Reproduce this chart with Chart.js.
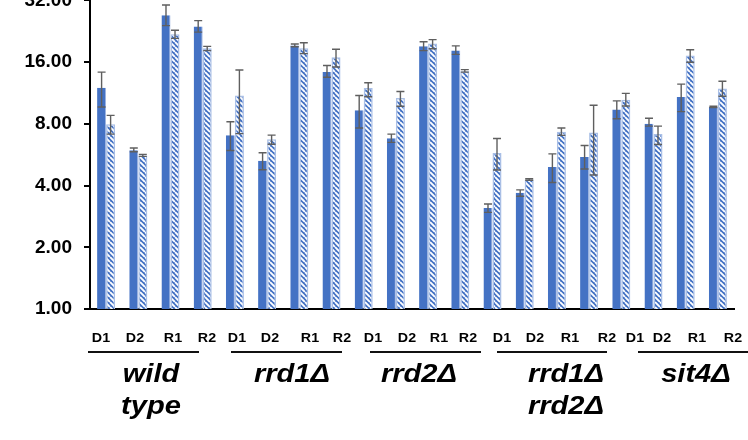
<!DOCTYPE html>
<html>
<head>
<meta charset="utf-8">
<script src="https://cdn.jsdelivr.net/npm/chart.js@4.4.1/dist/chart.umd.min.js"></script>
<style>
  html, body { margin: 0; padding: 0; background: #fff; overflow: hidden; }
  #wrap { position: absolute; left: 0; top: -23px; width: 748px; height: 463px; }
</style>
</head>
<body>
<div id="wrap"><canvas id="chart" width="748" height="463"></canvas></div>
<script>
// categories
const categories = ['D1', 'D2', 'R1', 'R2'];
const groups = [['wild', 'type'], ['rrd1\u0394'], ['rrd2\u0394'], ['rrd1\u0394', 'rrd2\u0394'], ['sit4\u0394']];
const yTicks = [1, 2, 4, 8, 16, 32];

// solid series
const solidValues = [12.0, 5.95, 27.1, 23.9, 7.03, 5.28, 19.3, 14.3, 9.32, 6.8, 19.1, 18.25, 3.11, 3.69, 4.93, 5.52, 9.39, 8.0, 10.8, 9.67];
const solidHigh   = [14.3, 6.1, 30.4, 25.5, 8.19, 5.78, 19.6, 15.4, 11.0, 7.13, 20.1, 19.2, 3.25, 3.81, 5.71, 6.27, 10.35, 8.52, 12.5, 9.75];
const solidLow    = [9.67, 5.85, 24.1, 22.4, 5.93, 4.78, 19.0, 13.5, 7.63, 6.5, 18.2, 17.45, 2.96, 3.55, 4.14, 4.82, 8.47, 7.8, 9.18, 9.6];

// hatched series
const hatchValues = [7.97, 5.61, 21.9, 18.7, 11.0, 6.72, 18.7, 16.9, 11.95, 10.7, 19.7, 14.45, 5.76, 4.28, 7.33, 7.25, 10.5, 7.13, 17.25, 11.9];
const hatchHigh   = [8.8, 5.68, 22.9, 19.1, 14.65, 7.05, 19.9, 18.5, 12.7, 11.5, 20.6, 14.7, 6.78, 4.32, 7.63, 9.85, 11.26, 7.8, 18.4, 12.9];
const hatchLow    = [7.13, 5.55, 20.9, 18.2, 7.17, 6.36, 17.6, 15.15, 10.85, 9.74, 18.6, 14.3, 4.76, 4.24, 7.03, 4.5, 9.78, 6.34, 15.97, 10.9];

const labels = [];
groups.forEach(() => categories.forEach(c => labels.push(c)));

// layout of the hand-placed text under the axis (page pixels)
const OFFSET = 23;
const tickLabelX = [101, 135, 173, 207, 237, 270, 310, 342, 373, 407, 439, 468, 502, 535, 570, 607, 635, 662, 697, 733];
const groupLine = [[88, 199], [231, 342], [370, 481], [497, 607], [638, 748]];
const groupCenter = [151, 292, 419, 566, 696];

const BLUE = '#4472C4';

function makeHatch() {
    const c = document.createElement('canvas');
    c.width = 5; c.height = 5;
    const g = c.getContext('2d');
    g.fillStyle = BLUE;
    g.fillRect(0, 0, 5, 5);
    g.strokeStyle = '#ffffff';
    g.lineWidth = 1.9;
    g.beginPath();
    for (let k = -5; k <= 10; k += 5) {
        g.moveTo(k, 0);
        g.lineTo(k + 5, 5);
    }
    g.stroke();
    return g.createPattern(c, 'repeat');
}

function drawScaled(ctx, text, x, y, sx) {
    ctx.save();
    ctx.translate(x, y);
    ctx.scale(sx, 1);
    ctx.fillText(text, 0, 0);
    ctx.restore();
}

const errorBars = {
    id: 'errorBars',
    afterDatasetsDraw(chart) {
        const ctx = chart.ctx;
        const y = chart.scales.y;
        const sets = [[solidHigh, solidLow], [hatchHigh, hatchLow]];
        ctx.save();
        ctx.strokeStyle = '#5f5f5f';
        ctx.lineWidth = 1.4;
        sets.forEach((pair, di) => {
            const meta = chart.getDatasetMeta(di);
            meta.data.forEach((bar, i) => {
                const top = y.getPixelForValue(pair[0][i]);
                const bot = y.getPixelForValue(pair[1][i]);
                ctx.beginPath();
                ctx.moveTo(bar.x, top); ctx.lineTo(bar.x, bot);
                ctx.moveTo(bar.x - 4, top); ctx.lineTo(bar.x + 4, top);
                ctx.moveTo(bar.x - 4, bot); ctx.lineTo(bar.x + 4, bot);
                ctx.stroke();
            });
        });
        ctx.restore();
    }
};

const axisText = {
    id: 'axisText',
    afterDraw(chart) {
        const ctx = chart.ctx;
        ctx.save();
        ctx.fillStyle = '#000';
        ctx.textAlign = 'center';
        ctx.textBaseline = 'middle';
        ctx.font = 'bold 13px "Liberation Sans", Arial, sans-serif';
        labels.forEach((t, i) => drawScaled(ctx, t, tickLabelX[i], 338 + OFFSET, 1.1));

        ctx.strokeStyle = '#111';
        ctx.lineWidth = 2;
        groupLine.forEach(([a, b]) => {
            ctx.beginPath();
            ctx.moveTo(a, 352 + OFFSET);
            ctx.lineTo(b, 352 + OFFSET);
            ctx.stroke();
        });

        ctx.font = 'italic bold 26px "Liberation Sans", Arial, sans-serif';
        groups.forEach((lines, g) => {
            lines.forEach((t, k) => drawScaled(ctx, t, groupCenter[g], 375 + k * 32 + OFFSET, 1.12));
        });
        ctx.restore();
    }
};

new Chart(document.getElementById('chart'), {
    type: 'bar',
    data: {
        labels: labels,
        datasets: [
            {
                data: solidValues,
                backgroundColor: BLUE,
                borderColor: '#9db3e0',
                borderWidth: { right: 1, left: 0, top: 0, bottom: 0 },
                borderSkipped: 'bottom'
            },
            {
                data: hatchValues,
                backgroundColor: makeHatch(),
                borderColor: '#a9bfe6',
                borderWidth: 1.5,
                borderSkipped: 'bottom'
            }
        ]
    },
    options: {
        responsive: false,
        animation: false,
        events: [],
        layout: { padding: { top: 20, left: 0, right: 14, bottom: 131 } },
        plugins: { legend: { display: false }, tooltip: { enabled: false } },
        datasets: { bar: { categoryPercentage: 0.56, barPercentage: 1.0 } },
        scales: {
            x: {
                grid: { display: false, drawTicks: false },
                ticks: { display: false },
                border: { color: '#000', width: 2 }
            },
            y: {
                type: 'logarithmic',
                min: 1,
                max: 32,
                afterBuildTicks: s => { s.ticks = yTicks.map(v => ({ value: v })); },
                afterFit: s => { s.width = 90; },
                grid: { drawOnChartArea: false, drawTicks: true, tickLength: 6, color: '#000', lineWidth: 2 },
                border: { color: '#000', width: 2 },
                ticks: {
                    color: '#000',
                    padding: 12,
                    font: { family: '"Liberation Sans", Arial, sans-serif', size: 19, weight: 'bold' },
                    callback: v => Number(v).toFixed(2)
                }
            }
        }
    },
    plugins: [errorBars, axisText]
});
</script>
</body>
</html>
